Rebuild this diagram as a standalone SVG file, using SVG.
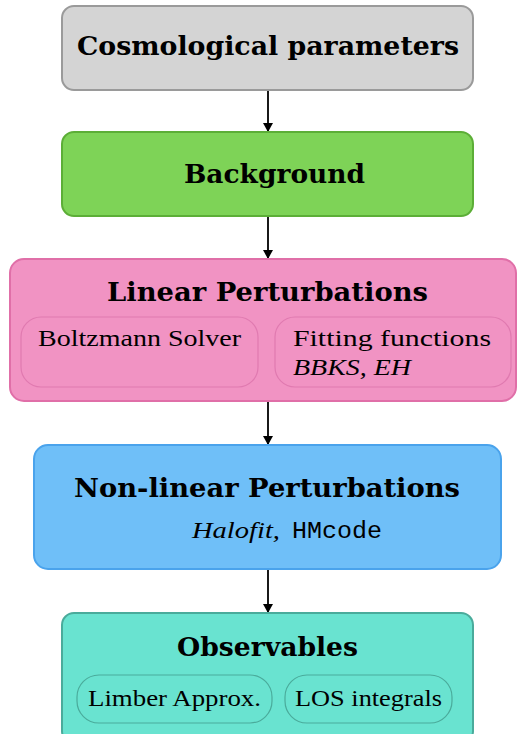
<svg xmlns="http://www.w3.org/2000/svg" width="517" height="734" viewBox="0 0 517 734">
<style>
.t{font-family:"DejaVu Serif","Liberation Serif",serif;font-weight:bold;font-size:26px;fill:#000}
.s{font-family:"Liberation Serif","DejaVu Serif",serif;font-size:24px;fill:#000}
.i{font-style:italic}
.m{font-family:"Liberation Mono","DejaVu Sans Mono",monospace;font-size:24px}
.c{stroke:#000;stroke-width:1.8;fill:none}
</style>
<defs>
<marker id="ah" markerWidth="9" markerHeight="10" refX="9" refY="5" orient="auto" markerUnits="userSpaceOnUse">
<path d="M0,0 L9,5 L0,10 z" fill="#000"/>
</marker>
</defs>
<rect width="517" height="734" fill="#fff"/>
<g id="connectors">
<line class="c" x1="268" y1="90" x2="268" y2="132" marker-end="url(#ah)"/>
<line class="c" x1="268" y1="216" x2="268" y2="259" marker-end="url(#ah)"/>
<line class="c" x1="268" y1="401" x2="268" y2="445" marker-end="url(#ah)"/>
<line class="c" x1="268" y1="569" x2="268" y2="613" marker-end="url(#ah)"/>
</g>
<g id="cosmo">
<rect x="62" y="6" width="411" height="84" rx="12" fill="#d4d4d4" stroke="#9a9a9a" stroke-width="2"/>
<text class="t" x="77" y="55" textLength="382" lengthAdjust="spacingAndGlyphs">Cosmological parameters</text>
</g>
<g id="background">
<rect x="62" y="132" width="411" height="84" rx="12" fill="#7ed357" stroke="#5cae37" stroke-width="2"/>
<text class="t" x="184" y="183" textLength="181" lengthAdjust="spacingAndGlyphs">Background</text>
</g>
<g id="linear">
<rect x="10" y="259" width="506" height="142" rx="14" fill="#f193c3" stroke="#e06fa8" stroke-width="2"/>
<text class="t" x="107" y="301" textLength="321" lengthAdjust="spacingAndGlyphs">Linear Perturbations</text>
<rect x="21" y="317" width="237" height="70" rx="20" fill="#f193c3" stroke="#e07ab0" stroke-width="1.2"/>
<text class="s" x="38" y="346" textLength="203" lengthAdjust="spacingAndGlyphs">Boltzmann Solver</text>
<rect x="275" y="317" width="236" height="70" rx="20" fill="#f193c3" stroke="#e07ab0" stroke-width="1.2"/>
<text class="s" x="293" y="346" textLength="198" lengthAdjust="spacingAndGlyphs">Fitting functions</text>
<text class="s i" x="293" y="375" textLength="118" lengthAdjust="spacingAndGlyphs">BBKS, EH</text>
</g>
<g id="nonlinear">
<rect x="34" y="445" width="467" height="124" rx="14" fill="#6fbff8" stroke="#4aa3ec" stroke-width="2"/>
<text class="t" x="74" y="497" textLength="386" lengthAdjust="spacingAndGlyphs">Non-linear Perturbations</text>
<text class="s i" x="192" y="538" textLength="88" lengthAdjust="spacingAndGlyphs">Halofit,</text>
<text class="s m" x="292" y="538" textLength="90" lengthAdjust="spacingAndGlyphs">HMcode</text>
</g>
<g id="observables">
<rect x="62" y="613" width="411" height="130" rx="12" fill="#69e3d0" stroke="#4aab9b" stroke-width="2"/>
<text class="t" x="177" y="656" textLength="181" lengthAdjust="spacingAndGlyphs">Observables</text>
<rect x="77" y="675" width="195" height="48" rx="22" fill="#69e3d0" stroke="#4aab9b" stroke-width="1.2"/>
<text class="s" x="88" y="706" textLength="173" lengthAdjust="spacingAndGlyphs">Limber Approx.</text>
<rect x="285" y="675" width="167" height="48" rx="22" fill="#69e3d0" stroke="#4aab9b" stroke-width="1.2"/>
<text class="s" x="295" y="706" textLength="147" lengthAdjust="spacingAndGlyphs">LOS integrals</text>
</g>
</svg>
